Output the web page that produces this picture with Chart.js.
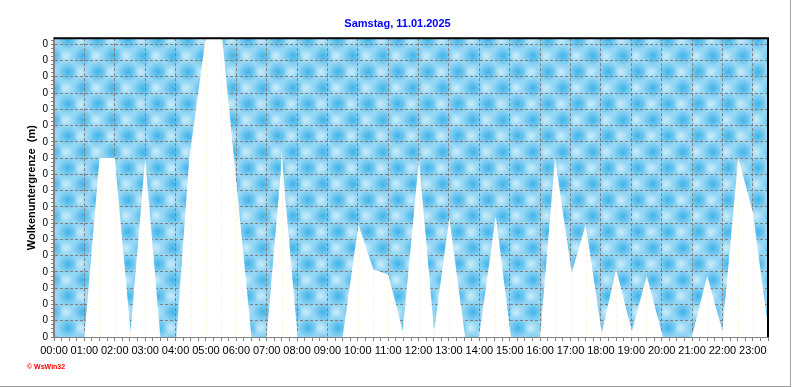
<!DOCTYPE html>
<html><head><meta charset="utf-8">
<script src="https://cdn.jsdelivr.net/npm/chart.js@4.4.1/dist/chart.umd.min.js"></script>
<style>
html,body{margin:0;padding:0;background:#fff;}
#wrap{position:relative;width:790px;height:386px;border-right:1px solid #a0a0a0;border-bottom:1px solid #a0a0a0;}
#c{position:absolute;left:0;top:0;}
#copy{position:absolute;left:27px;top:363px;font:bold 7px "Liberation Sans",Arial,sans-serif;color:#f00;white-space:nowrap;}
</style></head><body>
<div id="wrap"><canvas id="c" width="790" height="386"></canvas><div id="copy">© WsWin32</div></div>
<script>
const titleText = 'Samstag, 11.01.2025';
const yAxisTitle = 'Wolkenuntergrenze  (m)';
const xTickLabels = ['00:00','01:00','02:00','03:00','04:00','05:00','06:00','07:00','08:00','09:00','10:00','11:00',
                     '12:00','13:00','14:00','15:00','16:00','17:00','18:00','19:00','20:00','21:00','22:00','23:00'];
const yTickLabels = ['0','0','0','0','0','0','0','0','0','0','0','0','0','0','0','0','0','0','0'];
// time of day in hours
const timeH = [0, 1.0, 1.5, 2.0, 2.52, 3.0, 3.5, 4.03, 4.45, 5.0, 5.53, 6.5, 7.0, 7.47, 7.5, 7.53, 8.02,
               9.5, 10.02, 10.51, 11.0, 11.48, 12.01, 12.51, 13.01, 13.53, 13.99, 14.54, 15.04, 16.0, 16.49,
               17.04, 17.5, 18.03, 18.5, 19.02, 19.51, 20.04, 20.99, 21.5, 22.0, 22.52, 23.0, 23.5];
// cloud base (axis units)
const cloudBase = [0, 0, 11, 11, 0.3, 11, 0, 0, 10.95, 18.5, 18.5, 0, 0, 10.3, 11.5, 10.3, 0,
                   0, 6.9, 4.15, 3.85, 0.37, 10.9, 0.37, 7.33, 0, 0, 7.43, 0, 0, 11.0,
                   3.95, 6.9, 0.26, 4.16, 0.37, 3.75, 0, 0, 3.75, 0.37, 11.0, 7.7, 0.6];
const yMax = 18.37;
const xMax = 23.5;

const FONT = '"Liberation Sans", Arial, sans-serif';

function cloudPattern(ctx){
  const W=30,H=32;
  const t=document.createElement('canvas'); t.width=W; t.height=H;
  const g=t.getContext('2d');
  g.fillStyle='#94d6f4'; g.fillRect(0,0,W,H);
  const blob=(x,y,r,rgb,a)=>{
    for(const dx of [-W,0,W]) for(const dy of [-H,0,H]){
      const gr=g.createRadialGradient(x+dx,y+dy,0,x+dx,y+dy,r);
      gr.addColorStop(0,`rgba(${rgb},${a})`); gr.addColorStop(1,`rgba(${rgb},0)`);
      g.fillStyle=gr; g.fillRect(x+dx-r,y+dy-r,2*r,2*r);
    }
  };
  blob(8,8,10,'56,176,232',0.9);
  blob(23,24,10,'56,176,232',0.9);
  blob(21,8,7,'215,242,253',0.8);
  blob(6,24,7,'215,242,253',0.8);
  return ctx.createPattern(t,'repeat');
}

const areaBg = {
  id:'areaBg',
  beforeDraw(chart){
    const {ctx, chartArea:a} = chart;
    ctx.save();
    ctx.fillStyle = cloudPattern(ctx);
    ctx.fillRect(a.left, a.top, a.right-a.left, a.bottom-a.top);
    ctx.restore();
  }
};

const halfHour = {
  id:'halfHour',
  afterDatasetsDraw(chart){
    const {ctx, chartArea:a, scales:{x,y}} = chart;
    const pts = chart.getDatasetMeta(0).data;
    const y0 = y.getPixelForValue(0);
    ctx.save();
    ctx.beginPath(); ctx.rect(a.left,a.top,a.right-a.left,a.bottom-a.top); ctx.clip();
    ctx.beginPath(); ctx.moveTo(pts[0].x,y0);
    pts.forEach(p=>ctx.lineTo(p.x,p.y));
    ctx.lineTo(pts[pts.length-1].x,y0); ctx.closePath(); ctx.clip();
    ctx.strokeStyle='#f8f6d6'; ctx.lineWidth=1; ctx.setLineDash([3,3]);
    for(let h=0.5; h<=x.max; h+=0.5){
      const px=Math.round(x.getPixelForValue(h))+0.5;
      ctx.beginPath(); ctx.moveTo(px,a.top); ctx.lineTo(px,a.bottom); ctx.stroke();
    }
    ctx.restore();
  }
};

const frame = {
  id:'frame',
  afterDraw(chart){
    const {ctx, chartArea:a} = chart;
    ctx.save();
    ctx.strokeStyle='#000'; ctx.lineWidth=2;
    ctx.beginPath();
    ctx.moveTo(a.left, a.top); ctx.lineTo(a.right, a.top); ctx.lineTo(a.right, a.bottom);
    ctx.stroke();
    ctx.restore();
  }
};

const isInt = v => Math.abs(v-Math.round(v))<1e-6;

new Chart(document.getElementById('c'), {
  type:'line',
  data:{
    datasets:[{
      data: timeH.map((t,i)=>({x:t, y:cloudBase[i]})),
      fill:'origin',
      backgroundColor:'#ffffff',
      borderColor:'rgba(0,0,0,0)',
      borderWidth:0,
      pointRadius:0,
      tension:0
    }]
  },
  options:{
    responsive:false,
    animation:false,
    devicePixelRatio:1,
    layout:{padding:{left:5,right:0,top:0,bottom:0}},
    plugins:{
      legend:{display:false},
      tooltip:{enabled:false},
      title:{display:true, text:titleText, color:'#0000ff',
             font:{family:FONT,size:11,weight:'bold'}, padding:{top:17,bottom:8}}
    },
    scales:{
      x:{
        type:'linear', min:0, max:xMax,
        afterBuildTicks:s=>{ const t=[]; for(let i=0;i*0.25<=xMax+1e-9;i++) t.push({value:i*0.25}); s.ticks=t; },
        afterFit:s=>{ s.height=49; },
        ticks:{autoSkip:false, maxRotation:0, minRotation:0, padding:3, color:'#000',
               font:{family:FONT,size:11},
               callback:(v)=> isInt(v) ? (xTickLabels[Math.round(v)] ?? '') : ''},
        grid:{
          color:c=> (c.tick && isInt(c.tick.value) && c.tick.value>0) ? '#808080' : 'rgba(0,0,0,0)',
          tickColor:'#808080', tickLength:4, lineWidth:1
        },
        border:{display:true, color:'#808080', width:1, dash:[3,2], z:1}
      },
      y:{
        type:'linear', min:0, max:yMax,
        afterBuildTicks:s=>{ const t=[]; for(let i=0;i*0.25<=yMax;i++) t.push({value:i*0.25}); s.ticks=t; },
        afterFit:s=>{ s.width=49; },
        ticks:{autoSkip:false, padding:3, color:'#000', font:{family:FONT,size:10},
               callback:(v)=> isInt(v) ? (yTickLabels[Math.round(v)] ?? '') : ''},
        grid:{
          color:c=> (c.tick && isInt(c.tick.value) && c.tick.value>0) ? '#808080' : 'rgba(0,0,0,0)',
          tickColor:'#808080', tickLength:3, lineWidth:1
        },
        border:{display:true, color:'#808080', width:2, dash:[3,2], z:1},
        title:{display:true, text:yAxisTitle, color:'#000', font:{family:FONT,size:11,weight:'bold'},
               padding:{top:20,bottom:0}}
      },
      yRight:{
        type:'linear', position:'right', min:0, max:yMax,
        afterFit:s=>{ s.width=22; },
        ticks:{display:false},
        grid:{display:false, drawOnChartArea:false},
        border:{display:false}
      }
    }
  },
  plugins:[areaBg, halfHour, frame]
});
</script>
</body></html>
